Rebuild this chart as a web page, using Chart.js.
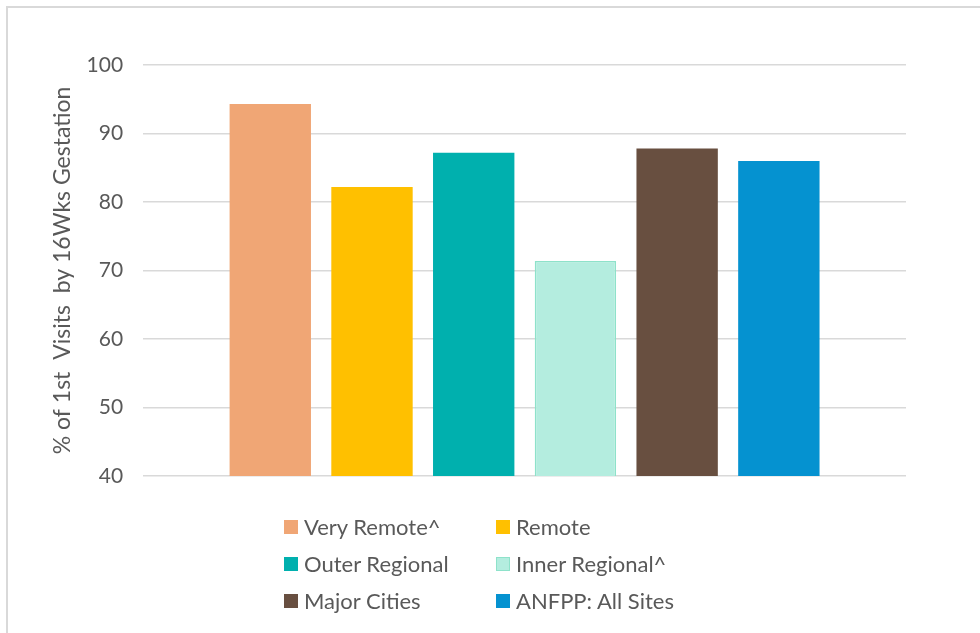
<!DOCTYPE html>
<html>
<head>
<meta charset="utf-8">
<script src="https://cdn.jsdelivr.net/npm/chart.js@4"></script>
<style>
  html, body { margin: 0; padding: 0; background: #fff; overflow: hidden; }
  #wrap { position: relative; width: 980px; height: 633px; }
  #frame {
    position: absolute; left: 6px; top: 6px; width: 1000px; height: 700px;
    border-left: 2px solid #d9d9d9; border-top: 2px solid #d9d9d9;
    box-sizing: border-box; pointer-events: none;
  }
  #legend {
    position: absolute; left: 284px; top: 508px;
    display: grid; grid-template-columns: 212px 212px; grid-auto-rows: 37px;
    font-family: Lato, sans-serif; font-size: 22px; color: #595959;
  }
  .item { display: flex; align-items: center; white-space: nowrap; }
  .box { width: 14px; height: 14px; margin-right: 6px; box-sizing: border-box; }
</style>
</head>
<body>
<div id="wrap">
  <canvas id="chart" width="980" height="633"></canvas>
  <div id="frame"></div>
  <div id="legend"></div>
</div>
<script>
const seriesNames = [
  "Very Remote^",
  "Remote",
  "Outer Regional",
  "Inner Regional^",
  "Major Cities",
  "ANFPP: All Sites",
];
const seriesValues = [94.3, 82.2, 87.2, 71.4, 87.8, 86.0];
const fillColors = ["#F0A675", "#FFC000", "#00B0AE", "#B4EDDF", "#684F40", "#0592D0"];
const edgeColors = ["#F0A675", "#FFC000", "#00B0AE", "#8EE2CA", "#684F40", "#0592D0"];
const yTicks = [40, 50, 60, 70, 80, 90, 100];

const chart = new Chart(document.getElementById("chart"), {
  type: "bar",
  data: {
    labels: [""],
    datasets: seriesNames.map((name, i) => ({
      label: name,
      data: [seriesValues[i]],
      backgroundColor: fillColors[i],
      borderColor: edgeColors[i],
      borderWidth: i === 3 ? 1.5 : 0,
      barPercentage: 0.8,
      categoryPercentage: 0.8,
    })),
  },
  options: {
    responsive: false,
    animation: false,
    layout: {
      padding: { top: 65, right: 74, bottom: 157, left: 49 },
    },
    plugins: {
      legend: { display: false },
      tooltip: { enabled: false },
    },
    scales: {
      x: { display: false },
      y: {
        min: 40,
        max: 100,
        afterBuildTicks: (axis) => {
          axis.ticks = yTicks.map((v) => ({ value: v }));
        },
        border: { display: false },
        grid: { color: "#d9d9d9", lineWidth: 1.5, drawTicks: false },
        ticks: {
          padding: 20,
          color: "#595959",
          font: { family: "Lato", size: 21 },
        },
        title: {
          display: true,
          text: "% of 1st  Visits  by 16Wks Gestation",
          color: "#595959",
          font: { family: "Lato", size: 23 },
          padding: { top: 0, bottom: -10 },
        },
      },
    },
  },
});

// legend in two columns under the plot
const legend = document.getElementById("legend");
seriesNames.forEach((name, i) => {
  const item = document.createElement("div");
  item.className = "item";
  const box = document.createElement("span");
  box.className = "box";
  box.style.background = fillColors[i];
  if (i === 3) box.style.border = "1.5px solid " + edgeColors[i];
  item.appendChild(box);
  item.appendChild(document.createTextNode(name));
  legend.appendChild(item);
});
</script>
</body>
</html>
